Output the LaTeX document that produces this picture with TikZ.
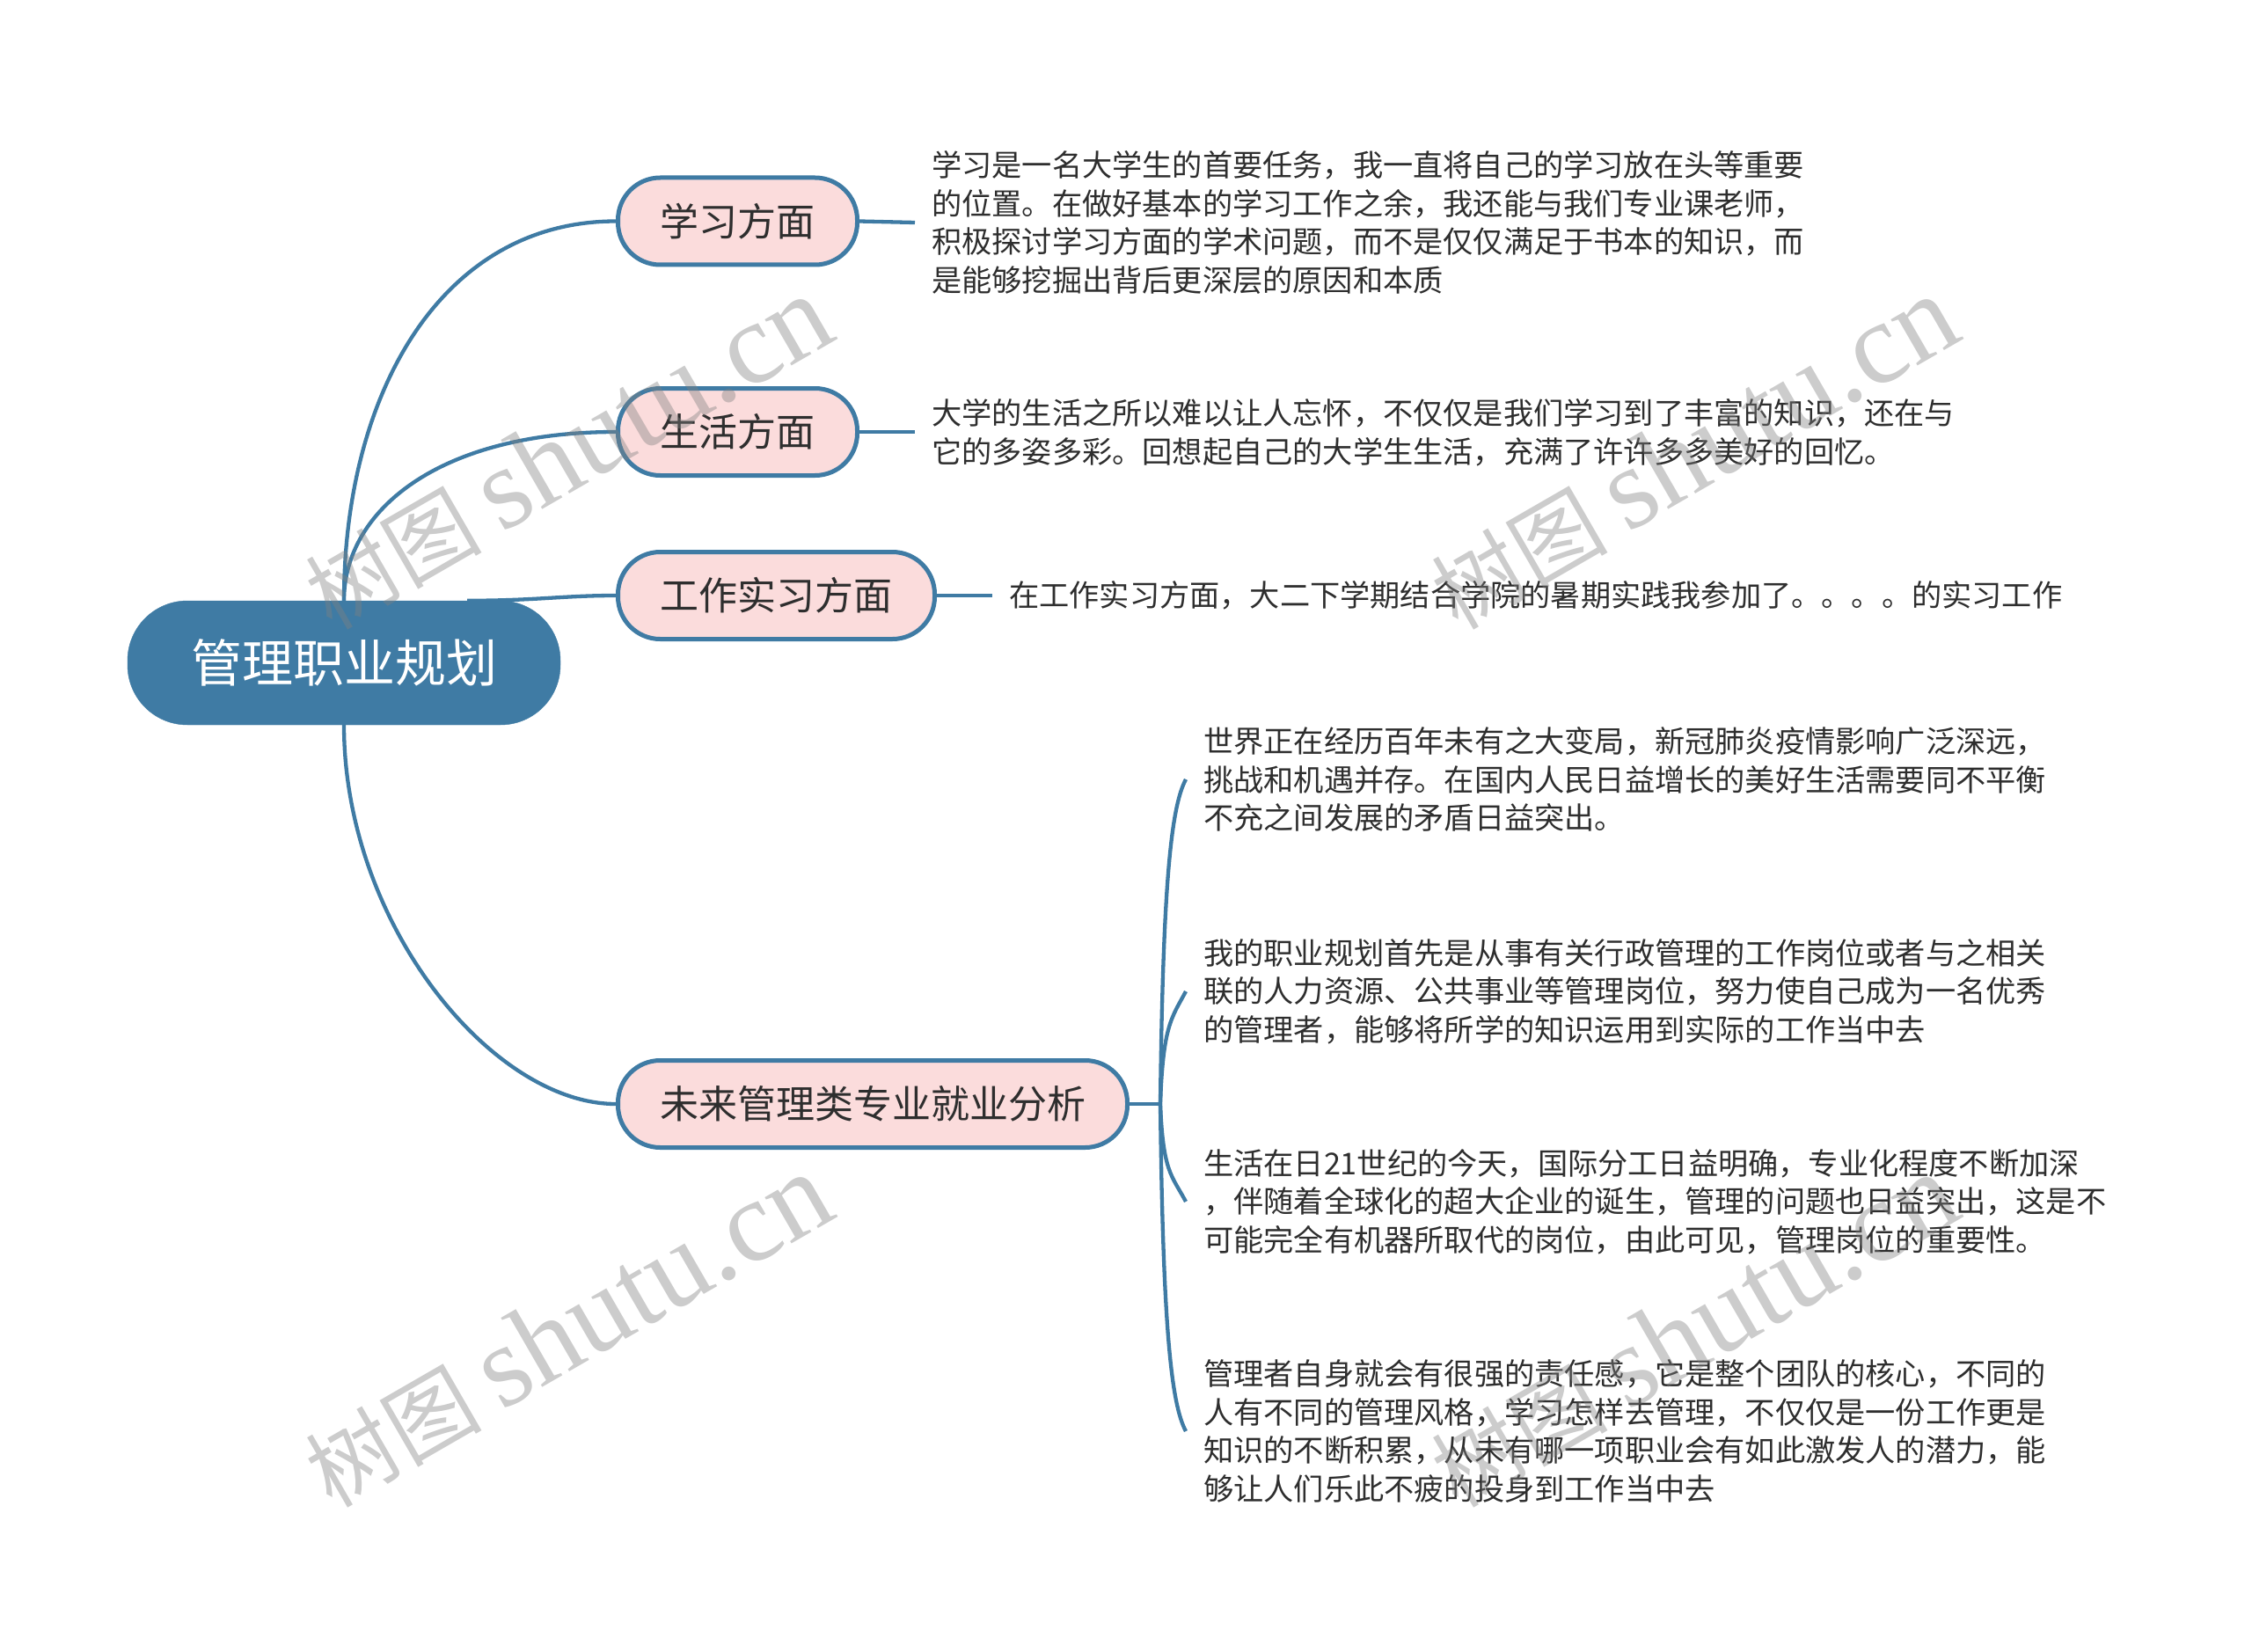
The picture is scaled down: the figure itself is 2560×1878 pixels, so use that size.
\documentclass[tikz,border=0pt]{standalone}
\usepackage{fontspec}
\setmainfont{Noto Sans CJK SC}
\newfontfamily\cjk{Noto Sans CJK SC}
\newfontfamily\wmfont{Liberation Serif}
\usetikzlibrary{calc}
\definecolor{mblue}{HTML}{3F7BA4}
\definecolor{mpink}{HTML}{FBDCDC}
\definecolor{mtext}{HTML}{2E2E2E}
\begin{document}
\begin{tikzpicture}[x=1pt,y=-1pt,
  rootbox/.style={fill=mblue, draw=mblue, rounded corners=68pt, minimum width=492pt, minimum height=141pt, text=white, font=\fontsize{58pt}{70pt}\selectfont, inner sep=0pt},
  branch/.style={fill=mpink, draw=mblue, line width=5pt, rounded corners=48pt, minimum height=99pt, text=mtext, font=\fontsize{44pt}{52pt}\selectfont, inner sep=0pt},
  detail/.style={align=left, text=mtext, font=\fontsize{34.2pt}{43.5pt}\selectfont, inner xsep=19pt, inner ysep=0pt, anchor=west},
  conn/.style={draw=mblue, line width=4.3pt},
  wm/.style={text=gray, opacity=0.4, rotate=30, inner sep=0pt}
]
\useasboundingbox (0,0) rectangle (2560,1878);
\fill[white] (0,0) rectangle (2560,1878);

% root and branches
\node[rootbox] (root) at (391,753.5) {管理职业规划};
\node[branch, minimum width=272pt] (b1) at (838.5,251.5) {学习方面};
\node[branch, minimum width=272pt] (b2) at (838.5,491) {生活方面};
\node[branch, minimum width=360pt] (b3) at (882.5,677) {工作实习方面};
\node[branch, minimum width=579pt] (b4) at (992,1255) {未来管理类专业就业分析};

% details
\node[detail] (d1) at (1040,253) {学习是一名大学生的首要任务，我一直将自己的学习放在头等重要\\的位置。在做好基本的学习工作之余，我还能与我们专业课老师，\\积极探讨学习方面的学术问题，而不是仅仅满足于书本的知识，而\\是能够挖掘出背后更深层的原因和本质};
\node[detail] (d2) at (1040,492) {大学的生活之所以难以让人忘怀，不仅仅是我们学习到了丰富的知识，还在与\\它的多姿多彩。回想起自己的大学生生活，充满了许许多多美好的回忆。};
\node[detail] (d3) at (1128,677) {在工作实习方面，大二下学期结合学院的暑期实践我参加了。。。。的实习工作};

\node[detail, inner xsep=20pt] (c1) at (1348,886) {世界正在经历百年未有之大变局，新冠肺炎疫情影响广泛深远，\\挑战和机遇并存。在国内人民日益增长的美好生活需要同不平衡\\不充之间发展的矛盾日益突出。};
\node[detail, inner xsep=20pt] (c2) at (1348,1127) {我的职业规划首先是从事有关行政管理的工作岗位或者与之相关\\联的人力资源、公共事业等管理岗位，努力使自己成为一名优秀\\的管理者，能够将所学的知识运用到实际的工作当中去};
\node[detail, inner xsep=20pt] (c3) at (1348,1366) {生活在日21世纪的今天，国际分工日益明确，专业化程度不断加深\\，伴随着全球化的超大企业的诞生，管理的问题也日益突出，这是不\\可能完全有机器所取代的岗位，由此可见，管理岗位的重要性。};
\node[detail, inner xsep=20pt] (c4) at (1348,1627) {管理者自身就会有很强的责任感，它是整个团队的核心，不同的\\人有不同的管理风格，学习怎样去管理，不仅仅是一份工作更是\\知识的不断积累，从未有哪一项职业会有如此激发人的潜力，能\\够让人们乐此不疲的投身到工作当中去};

% connectors from root
\draw[conn] (root.north) .. controls ($(root.north)+(0,-233)$) and ($(b1.west)+(-200,0)$) .. (b1.west);
\draw[conn] (root.north) .. controls ($(root.north)+(0,-103)$) and ($(b2.west)+(-200,0)$) .. (b2.west);
\draw[conn] ($(root.north)+(140,0)$) .. controls ($(root.north)+(220,0)$) and ($(b3.west)+(-60,0)$) .. (b3.west);
\draw[conn] (root.south) .. controls ($(root.south)+(0,226)$) and ($(b4.west)+(-140,0)$) .. (b4.west);

% branch to details
\draw[conn] (b1.east) -- (d1.west);
\draw[conn] (b2.east) -- (d2.west |- b2.east);
\draw[conn] (b3.east) -- (d3.west);

% brace for b4
\coordinate (hub) at ($(b4.east)+(35,0)$);
\draw[conn] (b4.east) -- (hub);
\draw[conn] (hub) .. controls ($(hub)!0.7!(hub |- c1.west)+(3,0)$) and ($(c1.west)+(-16,30)$) .. (c1.west);
\draw[conn] (hub) .. controls ($(hub)!0.7!(hub |- c2.west)+(3,0)$) and ($(c2.west)+(-16,30)$) .. (c2.west);
\draw[conn] (hub) .. controls ($(hub)!0.7!(hub |- c3.west)+(3,0)$) and ($(c3.west)+(-16,-30)$) .. (c3.west);
\draw[conn] (hub) .. controls ($(hub)!0.7!(hub |- c4.west)+(3,0)$) and ($(c4.west)+(-16,-30)$) .. (c4.west);

% watermarks
\node[wm] (w1) at (645,515) {\fontsize{100pt}{120pt}\cjk 树图 \fontsize{132pt}{150pt}\wmfont shutu.cn};
\node[wm] (w2) at (1925,515) {\fontsize{100pt}{120pt}\cjk 树图 \fontsize{132pt}{150pt}\wmfont shutu.cn};
\node[wm] (w3) at (645,1513) {\fontsize{100pt}{120pt}\cjk 树图 \fontsize{132pt}{150pt}\wmfont shutu.cn};
\node[wm] (w4) at (1925,1513) {\fontsize{100pt}{120pt}\cjk 树图 \fontsize{132pt}{150pt}\wmfont shutu.cn};
\end{tikzpicture}
\end{document}
